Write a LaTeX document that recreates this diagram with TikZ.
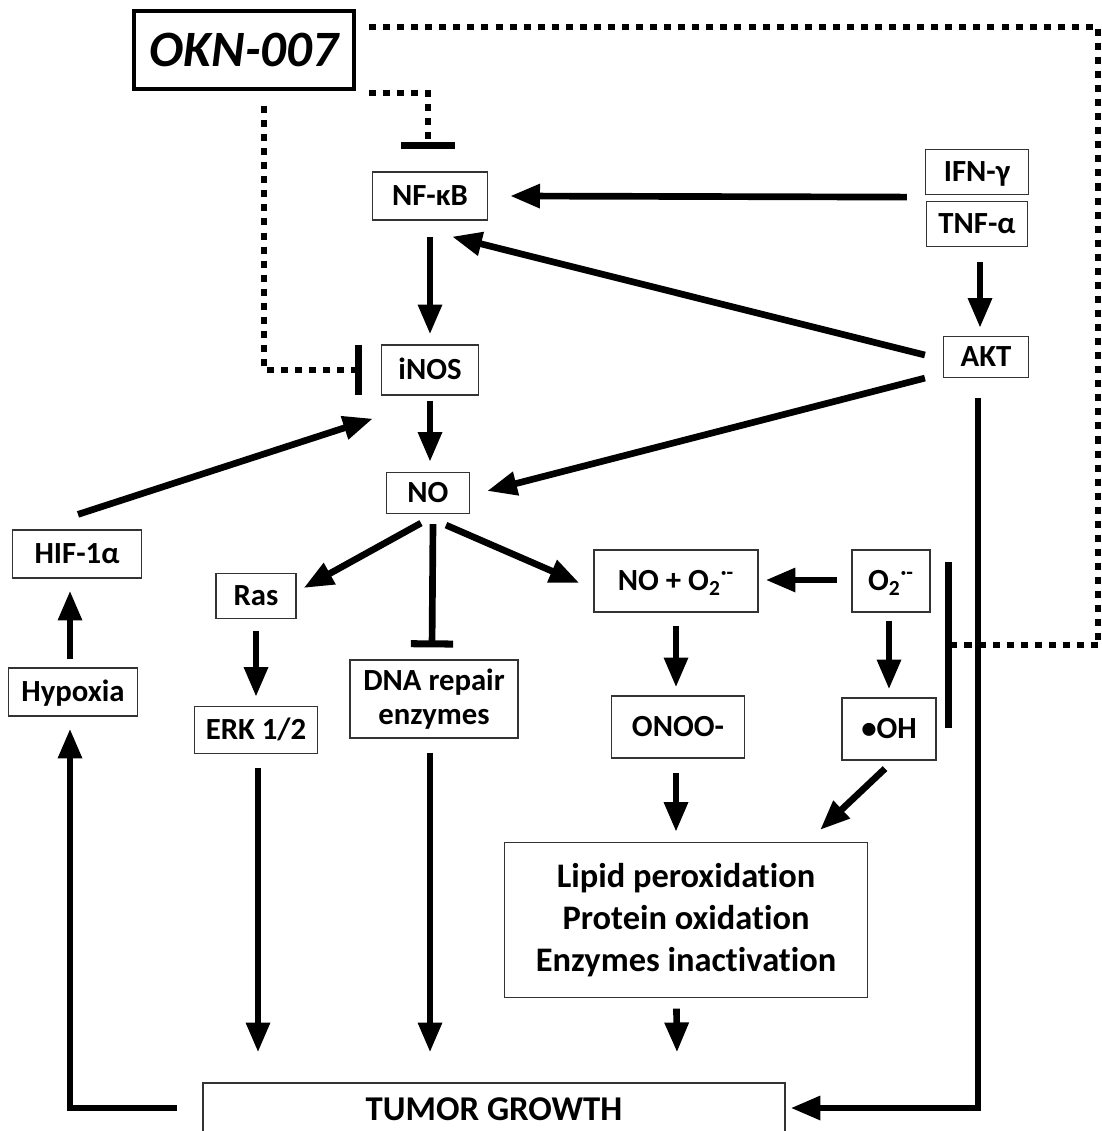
\documentclass[tikz,border=0pt]{standalone}
\usepackage{fontspec}
\setmainfont{Carlito}[Ligatures=NoCommon]
\usetikzlibrary{arrows.meta,calc}
\begin{document}
\begin{tikzpicture}[x=0.02cm,y=-0.02cm,
  box/.style={draw=black!80,line width=0.7pt,inner sep=0pt,
    font=\fontsize{17.5}{19}\selectfont\bfseries,text height=14pt,text depth=2.8pt},
  mbox/.style={draw=black!80,line width=0.7pt,inner sep=0pt,align=center},
  arr/.style={line width=3.8pt,-{Triangle[length=17pt,width=13pt]}},
  inh/.style={line width=3.8pt,-{Bar[width=24pt,line width=4pt]}},
  dot/.style={line width=3.6pt,dash pattern=on 4pt off 4pt},
]
\useasboundingbox (0,0) rectangle (1101,1131);

% nodes
\node[draw,line width=2.3pt,inner sep=0pt,minimum width=4.40cm,minimum height=1.56cm,
      font=\fontsize{29}{33}\selectfont\bfseries\itshape,text height=22pt,text depth=3.5pt] (okn) at (244,50) {OKN-007};
\node[box,minimum width=2.30cm,minimum height=0.96cm] (nfkb) at (430,196) {NF-κB};
\node[box,minimum width=2.06cm,minimum height=0.90cm] (ifn) at (977,172) {IFN-γ};
\node[box,minimum width=2.02cm,minimum height=0.90cm] (tnf) at (977,224) {TNF-α};
\node[box,minimum width=1.70cm,minimum height=0.82cm] (akt) at (986,357) {AKT};
\node[box,minimum width=1.94cm,minimum height=1.00cm] (inos) at (430,370) {iNOS};
\node[box,minimum width=1.66cm,minimum height=0.82cm] (no) at (428,493) {NO};
\node[box,minimum width=2.58cm,minimum height=0.96cm] (hif) at (77,554) {HIF-1α};
\node[box,minimum width=1.60cm,minimum height=0.90cm] (ras) at (256,596) {Ras};
\node[box,minimum width=3.28cm,minimum height=1.24cm] (noo2) at (676,581) {NO + O\textsubscript{2}\textsuperscript{·-}};
\node[box,minimum width=1.56cm,minimum height=1.24cm] (o2) at (891,581) {O\textsubscript{2}\textsuperscript{·-}};
\node[box,minimum width=2.58cm,minimum height=0.96cm] (hyp) at (73,692) {Hypoxia};
\node[box,minimum width=2.46cm,minimum height=0.94cm] (erk) at (256,730) {ERK 1/2};
\node[mbox,minimum width=3.36cm,minimum height=1.56cm,
      font=\fontsize{17.5}{19.5}\selectfont\bfseries] (dna) at (434,699) {DNA repair\\enzymes};
\node[box,minimum width=2.66cm,minimum height=1.24cm] (onoo) at (678,727) {ONOO-};
\node[box,minimum width=1.88cm,minimum height=1.24cm] (oh) at (889,729) {•OH};
\node[mbox,minimum width=7.26cm,minimum height=3.10cm,
      font=\fontsize{19.6}{23.8}\selectfont\bfseries] (lipid) at (686,920)
  {Lipid peroxidation\\Protein oxidation\\Enzymes inactivation};
\node[box,minimum width=11.64cm,minimum height=1.04cm,
      font=\fontsize{19.8}{22}\selectfont\bfseries,text height=16pt,text depth=3pt] (tumor) at (494,1109) {TUMOR GROWTH};

\coordinate (rc) at (1098,645);
\coordinate (ohbar) at (945,645);

% dotted inhibitions from OKN-007
\draw[dot] ($(okn.north east)+(13,18)$) -| (rc);
\draw[dot,-{Bar[width=95pt,line width=4pt]}] (rc) -- (ohbar);
\draw[dot,-{Bar[width=31pt,line width=4pt]}] ($(okn.south east)+(13,2)$) -| ($(nfkb.north)+(-2,-22)$);
\draw[dot,-{Bar[width=29pt,line width=4pt]}] ($(okn.south)+(20,15)$) |- ($(inos.west)+(-19,0)$);

% activating arrows
\draw[arr] ($(ifn.south west)+(-18,2)$) -- ($(nfkb.east)+(22,0)$);
\draw[arr] ($(tnf.south)+(3,15)$) -- ($(akt.north)+(-6,-8)$);
\draw[arr] ($(akt.west)+(-18,-2)$) -- ($(nfkb.south)+(22,16)$);
\draw[arr] ($(akt.south west)+(-18,0)$) -- ($(no.east)+(17,-2)$);
\draw[arr] ($(nfkb.south)+(0,16)$) -- ($(inos.north)+(0,-10)$);
\draw[arr] ($(inos.south)+(0,5)$) -- ($(no.north)+(2,-10)$);
\draw[arr] ($(hif.north)+(1,-15)$) -- ($(inos.south west)+(-8,23)$);
\draw[arr] ($(hyp.north)+(-3,-8)$) -- ($(hif.south)+(-7,12)$);
\draw[arr] ($(tumor.west)+(-25,-1)$) -| ($(hyp.south)+(-3,12)$);
\draw[arr] ($(no.south)+(-7,9)$) -- ($(ras.east)+(7,-8)$);
\draw[inh] ($(no.south)+(5,10)$) -- ($(dna.north)+(-2,-12)$);
\draw[arr] ($(no.south)+(18,11)$) -- ($(noo2.west)+(-14,2)$);
\draw[arr] ($(o2.west)+(-14,-1)$) -- ($(noo2.east)+(7,-1)$);
\draw[arr] ($(noo2.south)+(0,13)$) -- ($(onoo.north)+(-2,-8)$);
\draw[arr] ($(o2.south)+(-2,8)$) -- ($(oh.north)+(0,-8)$);
\draw[arr] ($(ras.south)+(0,12)$) -- ($(erk.north)+(0,-9)$);
\draw[arr] ($(erk.south)+(2,14)$) -- ($(tumor.north)+(-236,-30)$);
\draw[arr] ($(dna.south)+(-4,14)$) -- ($(tumor.north)+(-64,-30)$);
\draw[arr] ($(onoo.south)+(-2,14)$) -- ($(lipid.north)+(-10,-10)$);
\draw[arr] ($(oh.south)+(-4,8)$) -- ($(lipid.north east)+(-48,-12)$);
\draw[arr] ($(lipid.south)+(-9.5,10.5)$) -- ($(tumor.north)+(183,-30)$);
\draw[arr] ($(akt.south)+(-8,20)$) |- ($(tumor.east)+(5,-1)$);
\end{tikzpicture}
\end{document}
